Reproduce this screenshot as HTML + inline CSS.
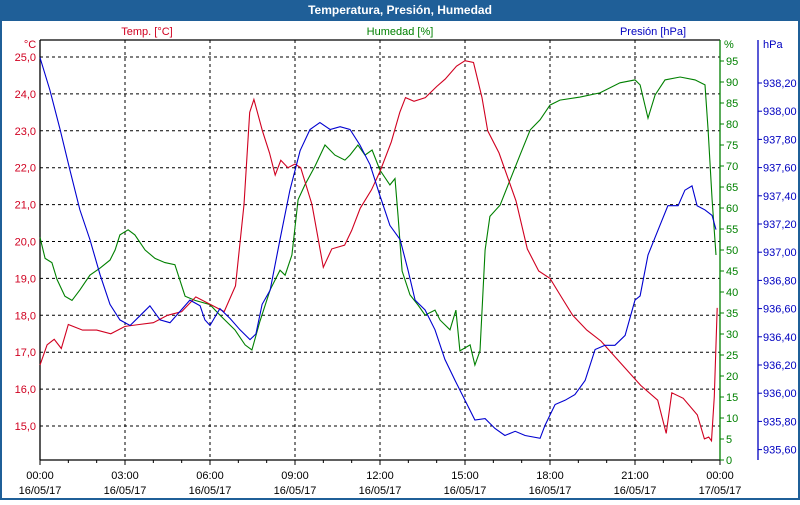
<!DOCTYPE html>
<html><head><meta charset="utf-8"><style>
body{margin:0;width:800px;height:500px;overflow:hidden;background:#fff;font-family:"Liberation Sans",sans-serif}
svg text{font-family:"Liberation Sans",sans-serif;font-size:11px}
</style></head><body>
<svg id="chart" width="800" height="500">
<rect x="0" y="0" width="800" height="500" fill="#1f5f98"/>
<rect x="2" y="21" width="796" height="477" fill="#fff"/>
<text x="400" y="14" text-anchor="middle" fill="#fff" font-weight="bold" style="font-size:12px">Temperatura, Presión, Humedad</text>
<text x="147" y="35" text-anchor="middle" fill="#d00020">Temp. [°C]</text>
<text x="400" y="35" text-anchor="middle" fill="#008000">Humedad [%]</text>
<text x="653" y="35" text-anchor="middle" fill="#0000c0">Presión [hPa]</text>
<g id="grid"></g>
<g id="axes"></g>
<g id="series"></g>
</svg>
<script>
const tempTimes=[0,.25,.5,.75,1,1.5,2,2.5,3,3.5,4,4.5,5,5.5,6,6.5,6.9,7.2,7.4,7.55,7.85,8.1,8.3,8.5,8.75,9,9.2,9.6,10,10.3,10.75,11,11.3,11.7,12,12.4,12.7,12.9,13.2,13.6,14,14.3,14.7,15,15.3,15.6,15.8,16.2,16.8,17.2,17.6,18,18.4,18.8,19.3,19.8,20.5,21.2,21.8,22.1,22.3,22.7,23.2,23.45,23.6,23.7,23.8,23.9];
const tempValues=[16.65,17.2,17.35,17.1,17.75,17.6,17.6,17.5,17.7,17.75,17.8,18.0,18.1,18.5,18.3,18.1,18.8,21,23.5,23.85,23.0,22.4,21.8,22.2,22.0,22.1,22.0,21.0,19.3,19.8,19.9,20.3,20.9,21.4,21.9,22.7,23.5,23.9,23.8,23.9,24.2,24.4,24.75,24.9,24.85,23.9,23.0,22.4,21.1,19.8,19.2,19.0,18.5,18.0,17.6,17.3,16.7,16.1,15.7,14.8,15.9,15.75,15.3,14.65,14.7,14.6,15.8,18.2];
const humTimes=[0,.18,.42,.6,.88,1.13,1.41,1.76,2.12,2.47,2.65,2.82,3.11,3.35,3.71,4.06,4.41,4.76,5.12,5.47,6.0,6.35,6.88,7.24,7.48,7.76,8.12,8.47,8.65,8.89,9.11,9.35,9.71,10.06,10.41,10.76,10.94,11.22,11.47,11.72,12.0,12.35,12.53,12.64,12.78,13.06,13.34,13.59,13.94,14.12,14.47,14.68,14.82,15.18,15.35,15.53,15.71,15.88,16.24,16.59,16.94,17.3,17.65,18.0,18.35,19.06,19.76,20.47,21.0,21.18,21.46,21.71,22.06,22.59,23.12,23.47,23.58,23.72,23.86];
const humValues=[53,48,47,43,39,38,40.5,44,45.7,47.6,50,53.6,54.8,53.6,50,48,47,46.5,39,38,37,34.5,31,27.4,26.2,33,40.5,45.2,44,48.8,62,65.5,70,75,72.6,71.4,72.6,75,72.6,73.8,69,65.5,67,58,45,39.3,36.9,34.5,35.7,33.3,31,35.7,26,27.4,22.6,26,50,58,60.7,66.7,72.6,78.6,81,84.5,85.7,86.4,87.4,89.8,90.5,89.3,81.4,86.9,90.5,91.2,90.5,89.3,78.6,62,48.8];
const presTimes=[0,.35,.71,1.06,1.41,1.76,2.12,2.47,2.82,3.18,3.53,3.88,4.24,4.59,4.94,5.29,5.65,5.82,6.0,6.35,6.71,7.06,7.41,7.62,7.84,8.12,8.47,8.82,9.18,9.53,9.88,10.24,10.59,10.94,11.29,11.65,12.0,12.35,12.71,12.99,13.24,13.59,13.94,14.29,14.65,15.0,15.35,15.71,16.06,16.41,16.77,17.12,17.65,17.82,18.18,18.53,18.88,19.24,19.59,19.94,20.29,20.65,21.0,21.18,21.46,21.88,22.16,22.52,22.76,23.01,23.19,23.47,23.72,23.86];
const presValues=[938.38,938.15,937.87,937.58,937.3,937.09,936.84,936.63,936.52,936.48,936.55,936.62,936.52,936.5,936.58,936.66,936.62,936.52,936.48,936.6,936.53,936.45,936.38,936.42,936.63,936.73,937.09,937.44,937.72,937.87,937.92,937.87,937.89,937.87,937.76,937.62,937.4,937.19,937.09,936.87,936.66,936.59,936.45,936.24,936.09,935.95,935.81,935.82,935.75,935.7,935.73,935.7,935.68,935.77,935.92,935.95,935.99,936.09,936.31,936.34,936.34,936.41,936.66,936.69,936.98,937.19,937.33,937.33,937.44,937.47,937.33,937.3,937.26,937.16];
const xTickLabels=["00:00","03:00","06:00","09:00","12:00","15:00","18:00","21:00","00:00"];
const xTickDates=["16/05/17","16/05/17","16/05/17","16/05/17","16/05/17","16/05/17","16/05/17","16/05/17","17/05/17"];
const tempTicks=[25,24,23,22,21,20,19,18,17,16,15];
const humTicks=[95,90,85,80,75,70,65,60,55,50,45,40,35,30,25,20,15,10,5,0];
const presTicks=[938.2,938.0,937.8,937.6,937.4,937.2,937.0,936.8,936.6,936.4,936.2,936.0,935.8,935.6];

const L=40,R=720,T=40,B=460;
const xS=h=>L+h*(R-L)/24;
const yT=v=>57+(25-v)*36.9;
const yH=v=>B-v*4.2;
const yP=v=>83+(938.2-v)*141;
const NS="http://www.w3.org/2000/svg";
function mk(tag,attrs,parent,txt){const e=document.createElementNS(NS,tag);for(const k in attrs)e.setAttribute(k,attrs[k]);if(txt!==undefined)e.textContent=txt;parent.appendChild(e);return e;}
const grid=document.getElementById('grid'),axes=document.getElementById('axes'),series=document.getElementById('series');
tempTicks.forEach(t=>{const y=yT(t);
 const g=mk('line',{x1:L,x2:R,y1:y,y2:y,stroke:'#000','stroke-dasharray':'3,3'},grid);
 
 
 const tx=mk('text',{x:L-4,y:y+4,'text-anchor':'end',fill:'#d00020'},axes,t.toFixed(1).replace('.',','));
 
 
});
for(let i=1;i<8;i++){const x=xS(i*3);
 const g=mk('line',{x1:x,x2:x,y1:T,y2:B,stroke:'#000','stroke-dasharray':'3,3'},grid);
 
 }
for(let h=0;h<=24;h++){const x=xS(h);
 const t=mk('line',{x1:x,x2:x,y1:B,y2:B+(h%3==0?5:3),stroke:'#000'},axes);
 
 }
xTickLabels.forEach((lab,i)=>{const x=xS(i*3);
 const a=mk('text',{x:x,y:479,'text-anchor':'middle',fill:'#000'},axes,lab);
 
 
 const b=mk('text',{x:x,y:494,'text-anchor':'middle',fill:'#000'},axes,xTickDates[i]);
 
 });
humTicks.forEach(v=>{const y=yH(v);
 const t=mk('line',{x1:R,x2:R+4,y1:y,y2:y,stroke:'#008000'},axes);
 
 
 const tx=mk('text',{x:R+6,y:y+4,fill:'#008000'},axes,String(v));
 
 });
presTicks.forEach(v=>{const y=yP(v);
 const t=mk('line',{x1:758,x2:762,y1:y,y2:y,stroke:'#0000c0'},axes);
 
 
 const tx=mk('text',{x:763,y:y+4,fill:'#0000c0'},axes,v.toFixed(2).replace('.',','));
 
 });
const ax=[[L,T,L,B,'#000','y-axis-temp'],[L,B,R,B,'#000','x-axis'],[L,T,R,T,'#000','plot-top-border'],[R,T,R,B,'#008000','y-axis-humidity'],[758,T,758,B,'#0000c0','y-axis-pressure']];
ax.forEach(a=>{const l=mk('line',{x1:a[0],y1:a[1],x2:a[2],y2:a[3],stroke:a[4],'stroke-width':1.3},axes);
 
 });
[[30,48,'°C','#d00020','temp-unit'],[724,48,'%','#008000','humidity-unit'],[763,48,'hPa','#0000c0','pressure-unit']].forEach(u=>{
 const t=mk('text',{x:u[0],y:u[1],fill:u[3],'text-anchor':u[4]=='temp-unit'?'middle':'start'},axes,u[2]);
 
 });
function line(ts,vs,yf,col,name){const n=Math.min(ts.length,vs.length);let d='';
 for(let i=0;i<n;i++)d+=(i?'L':'M')+xS(ts[i]).toFixed(1)+','+yf(vs[i]).toFixed(1);
 const p=mk('path',{d:d,fill:'none',stroke:col,'stroke-width':1.1},series);
 
 }
line(humTimes,humValues,yH,'#008000','humidity-line');
line(tempTimes,tempValues,yT,'#d00020','temperature-line');
line(presTimes,presValues,yP,'#0000d0','pressure-line');
</script>
</body></html>
